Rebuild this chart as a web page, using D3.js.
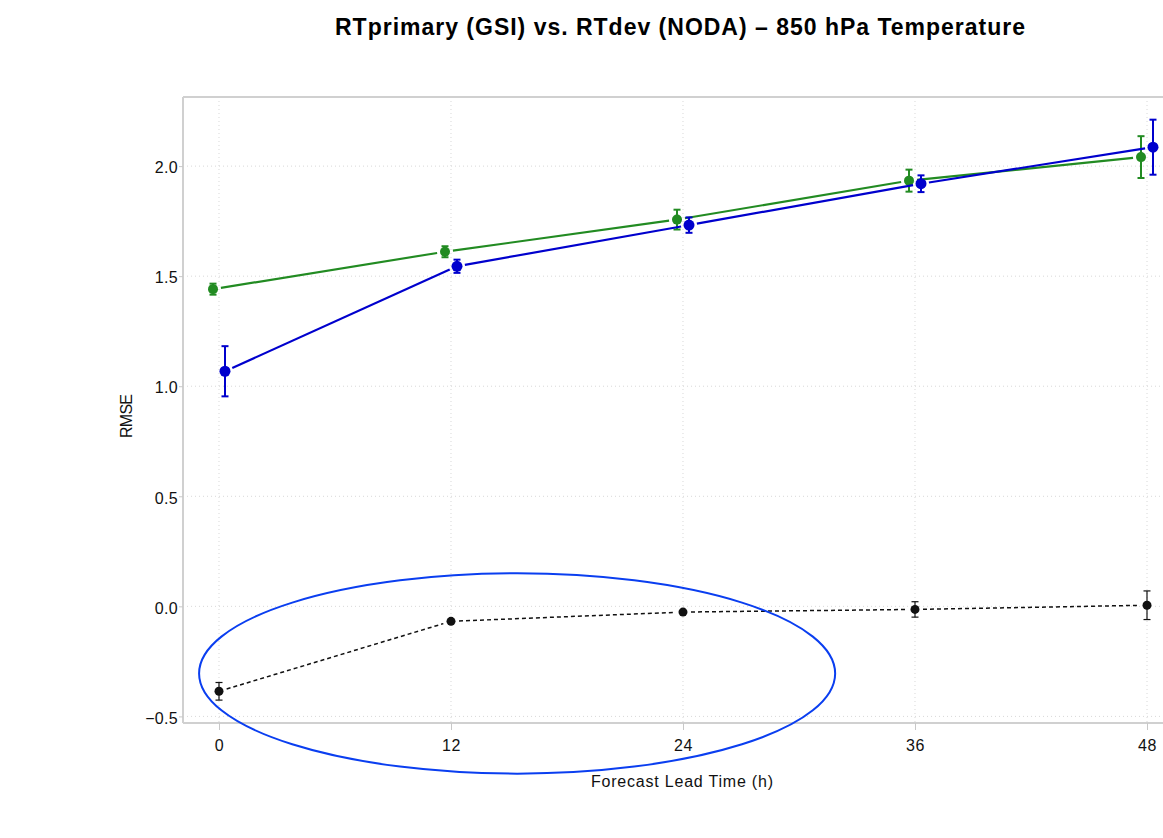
<!DOCTYPE html>
<html>
<head>
<meta charset="utf-8">
<script src="https://cdn.jsdelivr.net/npm/d3@7"></script>
<style>
html,body{margin:0;padding:0;background:#fff;}
svg{display:block;font-family:"Liberation Sans",Arial,Helvetica,sans-serif;}
</style>
</head>
<body>
<svg id="chart" width="1163" height="838"></svg>
<script>
// ---- data ----
const leadTimes = [0, 12, 24, 36, 48];
const xTicks = [0, 12, 24, 36, 48];
const yTicks = [-0.5, 0.0, 0.5, 1.0, 1.5, 2.0];
const gsiRMSE  = [1.441, 1.611, 1.757, 1.934, 2.041];
const gsiErr   = [0.025, 0.025, 0.045, 0.05, 0.095];
const nodaRMSE = [1.068, 1.545, 1.732, 1.920, 2.086];
const nodaErr  = [0.114, 0.03, 0.035, 0.038, 0.125];
const diffRMSE = [-0.386, -0.068, -0.026, -0.014, 0.005];
const diffErr  = [0.04, 0.0, 0.0, 0.035, 0.065];
// annotation ellipse (data coordinates)
const ellipse = {cx: 15.42, cy: -0.305, rx: 16.45, ry: 0.455};

const titleText = "RTprimary (GSI) vs. RTdev (NODA) \u2013 850 hPa Temperature";

// ---- layout ----
const W = 1163, H = 838;
const plot = {left: 183, top: 97, bottom: 723, right: 1147};
const svg = d3.select("#chart");

const x = d3.scaleLinear().domain([-1.862, 48]).range([plot.left, plot.right]);
const y = d3.scaleLinear().domain([-0.53, 2.314]).range([plot.bottom, plot.top]);

// gridlines
const grid = svg.append("g");
grid.selectAll("line.gx").data(xTicks).join("line")
  .attr("x1", d => x(d)).attr("x2", d => x(d))
  .attr("y1", plot.top).attr("y2", plot.bottom)
  .attr("stroke", "#d8d8d8").attr("stroke-width", 1).attr("stroke-dasharray", "1,3");
grid.selectAll("line.gy").data(yTicks).join("line")
  .attr("x1", plot.left).attr("x2", W)
  .attr("y1", d => y(d)).attr("y2", d => y(d))
  .attr("stroke", "#d8d8d8").attr("stroke-width", 1).attr("stroke-dasharray", "1,3");

// frame (left, top, bottom)
svg.append("line").attr("x1", plot.left).attr("x2", W).attr("y1", plot.top).attr("y2", plot.top)
  .attr("stroke", "#d0d0d0").attr("stroke-width", 2);
svg.append("line").attr("x1", plot.left).attr("x2", plot.left).attr("y1", plot.top).attr("y2", plot.bottom)
  .attr("stroke", "#d0d0d0").attr("stroke-width", 2);
svg.append("line").attr("x1", plot.left).attr("x2", W).attr("y1", plot.bottom).attr("y2", plot.bottom)
  .attr("stroke", "#d0d0d0").attr("stroke-width", 2);

// axes
const fmtY = d => d3.format(".1f")(d).replace("-", "\u2212");
const xAxis = d3.axisBottom(x).tickValues(xTicks).tickSize(7).tickPadding(10).tickFormat(d3.format("d"));
const gx = svg.append("g").attr("transform", `translate(0,${plot.bottom})`).call(xAxis);
gx.select(".domain").remove();
gx.selectAll(".tick line").attr("stroke", "#c8c8c8");
gx.selectAll(".tick text").attr("font-size", 16).attr("fill", "#111").attr("letter-spacing", 0.5)
  .attr("font-family", "Liberation Sans, Arial, sans-serif");

const yAxis = d3.axisLeft(y).tickValues(yTicks).tickSize(4).tickPadding(1).tickFormat(fmtY);
const gy = svg.append("g").attr("transform", `translate(${plot.left},0)`).call(yAxis);
gy.select(".domain").remove();
gy.selectAll(".tick line").attr("stroke", "#c8c8c8");
gy.selectAll(".tick text").attr("font-size", 16).attr("fill", "#111").attr("letter-spacing", 0.3)
  .attr("dy", "0.42em")
  .attr("font-family", "Liberation Sans, Arial, sans-serif");

// series drawing helper
function drawSeries(vals, errs, offset, color, dashed, r) {
  const g = svg.append("g");
  const pts = leadTimes.map((t, i) => ({px: x(t + offset), py: y(vals[i]), v: vals[i], e: errs[i]}));
  const gap = 8;
  for (let i = 0; i < pts.length - 1; i++) {
    const a = pts[i], b = pts[i + 1];
    const dx = b.px - a.px, dy = b.py - a.py, L = Math.hypot(dx, dy);
    const ux = dx / L, uy = dy / L;
    g.append("line")
      .attr("x1", a.px + ux * gap).attr("y1", a.py + uy * gap)
      .attr("x2", b.px - ux * gap).attr("y2", b.py - uy * gap)
      .attr("stroke", color).attr("stroke-width", dashed ? 1.5 : 2.2)
      .attr("stroke-dasharray", dashed ? "4,3" : null);
  }
  pts.forEach(p => {
    if (p.e > 0) {
      const y1 = y(p.v - p.e), y2 = y(p.v + p.e);
      g.append("line").attr("x1", p.px).attr("x2", p.px).attr("y1", y1).attr("y2", y2)
        .attr("stroke", color).attr("stroke-width", dashed ? 1.2 : 2);
      [y1, y2].forEach(yy => g.append("line").attr("x1", p.px - 3.5).attr("x2", p.px + 3.5)
        .attr("y1", yy).attr("y2", yy).attr("stroke", color).attr("stroke-width", dashed ? 1.2 : 2));
    }
    g.append("circle").attr("cx", p.px).attr("cy", p.py).attr("r", r).attr("fill", color);
  });
}

drawSeries(diffRMSE, diffErr, 0, "#111", true, 4.5);
drawSeries(gsiRMSE, gsiErr, -0.31, "#228b22", false, 5);
drawSeries(nodaRMSE, nodaErr, 0.31, "#0000cd", false, 5.5);

// annotation ellipse
svg.append("ellipse")
  .attr("cx", x(ellipse.cx)).attr("cy", y(ellipse.cy))
  .attr("rx", x(ellipse.cx + ellipse.rx) - x(ellipse.cx))
  .attr("ry", y(ellipse.cy - ellipse.ry) - y(ellipse.cy))
  .attr("fill", "none").attr("stroke", "#0a3ef0").attr("stroke-width", 2);

// labels
svg.append("text").attr("x", 680).attr("y", 35).attr("text-anchor", "middle")
  .attr("font-size", 23).attr("font-weight", "bold").attr("fill", "#000")
  .attr("textLength", 690).attr("lengthAdjust", "spacing").text(titleText);
svg.append("text").attr("x", 682).attr("y", 787).attr("text-anchor", "middle")
  .attr("font-size", 16).attr("fill", "#111")
  .attr("textLength", 182).attr("lengthAdjust", "spacing").text("Forecast Lead Time (h)");
svg.append("text").attr("transform", "translate(132,416) rotate(-90)").attr("text-anchor", "middle")
  .attr("font-size", 16).attr("fill", "#111")
  .attr("textLength", 44).attr("lengthAdjust", "spacing").text("RMSE");
</script>
</body>
</html>
